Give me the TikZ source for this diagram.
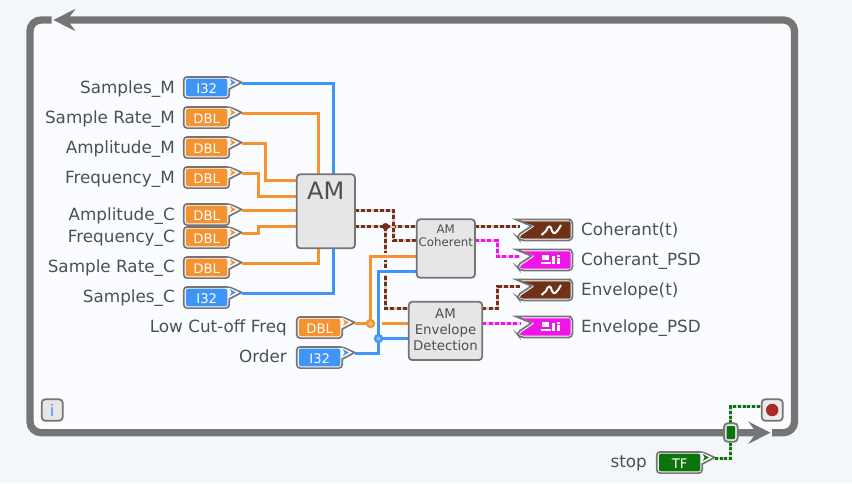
\documentclass[tikz,border=0pt]{standalone}
\usepackage{fontspec}
\setmainfont{DejaVu Sans}
\usetikzlibrary{arrows.meta}
\definecolor{loopgray}{HTML}{757575}
\definecolor{pagebg}{HTML}{F4F7FA}
\definecolor{panelbg}{HTML}{FBFCFF}
\definecolor{blockbg}{HTML}{E6E6E6}
\definecolor{txtgray}{HTML}{4A5059}
\definecolor{dblcol}{HTML}{F59331}
\definecolor{intcol}{HTML}{3F94F7}
\definecolor{wavecol}{HTML}{703216}
\definecolor{psdcol}{HTML}{F014E6}
\definecolor{boolcol}{HTML}{0D730D}
\definecolor{stopcol}{HTML}{A82A2F}
\tikzset{
  looppath/.style={draw=loopgray,line width=7.3pt,rounded corners=11pt},
  lbl/.style={font=\fontsize{16.8}{18}\selectfont,text=txtgray,inner sep=0pt},
  termtext/.style={font=\fontsize{13.2}{14}\selectfont,text=white,inner sep=0pt},
  blocktext/.style={font=\fontsize{#1}{#1}\selectfont,text=txtgray,inner sep=0pt,align=center},
  block/.style={draw=loopgray,line width=1.8pt,fill=blockbg,rounded corners=3.5pt},
  halo/.style={draw=panelbg,line width=6.5pt},
  wireD/.style={draw=dblcol,line width=3pt},
  wireI/.style={draw=intcol,line width=3pt},
  wireW/.style={draw=wavecol,line width=3pt,dash pattern=on 4pt off 2.2pt,preaction={draw=wavecol!25!panelbg,line width=3pt,solid}},
  wireP/.style={draw=psdcol,line width=2.6pt,dash pattern=on 4pt off 2.2pt,preaction={draw=psdcol!30!panelbg,line width=2.6pt,solid}},
  wireB/.style={draw=boolcol,line width=3pt,dash pattern=on 3pt off 1.8pt,preaction={draw=boolcol!25!panelbg,line width=3pt,solid}},
  ring/.style={circle,draw=#1,line width=2.2pt,fill=#1!60!white,minimum size=7pt,inner sep=0pt},
}
% control terminal, args: name, left x, centre y, colour, type
\newcommand{\ctlterm}[5]{
  \draw[draw=loopgray,line width=1.7pt,fill=panelbg,rounded corners=3.5pt]
    (#2,#3-10.6) -- (#2+38,#3-10.6) -- (#2+45.5,#3-10.6) [sharp corners] -- (#2+58,#3-5) -- (#2+45.5,#3+1.5) [rounded corners=3.5pt] -- (#2+45.5,#3+10.6) -- (#2,#3+10.6) -- cycle;
  \fill[#4,rounded corners=2pt] (#2+2.2,#3-8.8) -- (#2+43.6,#3-8.8) -- (#2+43.6,#3+8.8) -- (#2+2.2,#3+8.8) -- cycle;
  \fill[panelbg] (#2+45,#3-10) -- (#2+55.5,#3-5) -- (#2+45,#3) -- cycle;
  \fill[#4] (#2+46,#3-8.6) -- (#2+52,#3-5) -- (#2+46,#3-1.5) -- (#2+48,#3-5) -- cycle;
  \node[termtext] (#1) at (#2+23,#3+0.7) {#5};
  \coordinate (#1-o) at (#2+58,#3-4);
}
% indicator terminal, args: name, centre y, colour
\newcommand{\indterm}[3]{
  \draw[draw=loopgray,line width=1.7pt,fill=panelbg,rounded corners=3.5pt]
    (516,#2-10.5) [sharp corners] -- (571,#2-10.5) [rounded corners=4pt] -- (572.5,#2-10.5) -- (572.5,#2+10.5) -- (520,#2+10.5) -- (516.5,#2+6) [sharp corners] -- (531.5,#2-4) -- cycle;
  \fill[#3,rounded corners=2pt] (521,#2-8.7) -- (570.7,#2-8.7) -- (570.7,#2+8.7) -- (521,#2+8.7) -- (519.5,#2+6.5) -- (535,#2-4) -- cycle;
  \coordinate (#1) at (520,#2-3.5);
}
\begin{document}
\begin{tikzpicture}[x=1pt,y=-1pt]
\useasboundingbox (0,0) rectangle (852,483);
\fill[pagebg] (0,0) rectangle (852,483);
\fill[panelbg] (30,20) rectangle (794.5,432.7);
% loop frame
\draw[looppath,-{Stealth[length=22pt,width=22pt,inset=8pt]}] (772,432.7) -- (794.5,432.7) -- (794.5,20) -- (53.3,20);
\draw[looppath,-{Stealth[length=22pt,width=22pt,inset=8pt]}] (51.7,20) -- (30,20) -- (30,432.7) -- (770.5,432.7);

% block ports
\coordinate (amN1) at (318.5,174.3);
\coordinate (amN2) at (333.5,174.3);
\coordinate (amS1) at (318.5,248.3);
\coordinate (amS2) at (333.5,248.3);
\coordinate (amW1) at (296.7,180.5);
\coordinate (amW2) at (296.7,196.5);
\coordinate (amW3) at (296.7,210.5);
\coordinate (amW4) at (296.7,226.5);
\coordinate (amE1) at (355,210.5);
\coordinate (amE2) at (355,226.5);
\coordinate (cohW1) at (416.7,226.5);
\coordinate (cohW2) at (416.7,240.5);
\coordinate (cohW3) at (416.7,256.5);
\coordinate (cohW4) at (416.7,271.5);
\coordinate (cohE1) at (475,226.5);
\coordinate (cohE2) at (475,240.5);
\coordinate (envW1) at (408.7,308.5);
\coordinate (envW2) at (408.7,323.5);
\coordinate (envW3) at (408.7,338.5);
\coordinate (envE1) at (482.3,308.5);
\coordinate (envE2) at (482.3,323.5);
\coordinate (splitW) at (385.5,226.5);
\coordinate (splitD) at (370.5,323.5);
\coordinate (splitI) at (378.5,338.5);

% terminals
\ctlterm{smpM}{183.7}{87.5}{intcol}{I32}
\ctlterm{srM}{183.7}{117.5}{dblcol}{DBL}
\ctlterm{ampM}{183.7}{147.5}{dblcol}{DBL}
\ctlterm{frqM}{183.7}{177.5}{dblcol}{DBL}
\ctlterm{ampC}{183.7}{214.5}{dblcol}{DBL}
\ctlterm{frqC}{183.7}{237.5}{dblcol}{DBL}
\ctlterm{srC}{183.7}{267.5}{dblcol}{DBL}
\ctlterm{smpC}{183.7}{297.5}{intcol}{I32}
\ctlterm{lowF}{296.7}{327.5}{dblcol}{DBL}
\ctlterm{ordr}{296.7}{357.5}{intcol}{I32}
\ctlterm{stopT}{656.7}{462.5}{boolcol}{TF}
\indterm{cohT}{230}{wavecol}
\indterm{cohP}{260}{psdcol}
\indterm{envT}{290}{wavecol}
\indterm{envP}{327}{psdcol}

% wires
\draw[wireI] (smpM-o) -| (amN2);
\draw[wireD] (srM-o) -| (amN1);
\draw[wireD] (ampM-o) -- ++(23.8,0) |- (amW1);
\draw[wireD] (frqM-o) -- ++(16.8,0) |- (amW2);
\draw[wireD] (ampC-o) -- (amW3);
\draw[wireD] (frqC-o) -- ++(16.8,0) |- (amW4);
\draw[wireD] (srC-o) -| (amS1);
\draw[wireI] (smpC-o) -| (amS2);

\draw[wireW] (splitW) |- (envW1);
\draw[wireW] (amE2) -- (splitW) -- (cohW1);
\draw[wireW] (amE1) -- ++(38.5,0) |- (cohW2);
\draw[wireW] (cohE1) -- (cohT);
\draw[wireP] (cohE2) -- ++(22.5,0) |- (cohP);
\draw[wireW] (envE1) -- ++(15.2,0) |- (envT);
\draw[wireP] (envE2) -- (envP);

\draw[halo] (splitD) |- (cohW3);
\draw[wireD] (lowF-o) -- (splitD);
\draw[wireD] (splitD) |- (cohW3);
\draw[wireD] (splitD) -- (envW2);
\draw[halo] (ordr-o) -- ++(23.8,0) |- (cohW4);
\draw[wireI] (ordr-o) -- ++(23.8,0) |- (cohW4);
\draw[wireI] (splitI) -- (envW3);
\node[ring=dblcol] (ringD) at (splitD) {};
\node[ring=intcol] (ringI) at (splitI) {};
\fill[wavecol] (splitW) circle (3.5pt);

% blocks
\draw[block] (296.7,174.3) rectangle (355,248.3);
\node[blocktext=24,anchor=north] (am) at (325.8,181.5) {AM};
\draw[block] (416.7,219.3) rectangle (475,277.7);
\node[blocktext=11.8,anchor=base] (amcoh) at (445.8,246.8) {AM\\[1.2pt]Coherent};
\draw[block] (408.7,301.7) rectangle (482.3,360);
\node[blocktext=13.3,anchor=base] (amenv) at (445.5,350) {AM\\[2.7pt]Envelope\\[2.7pt]Detection};

% indicator icons
\foreach \yy in {230,290}
  \draw[white,line width=2pt] (541.5,\yy+5) -- (546,\yy+1) .. controls (548,\yy-5) and (551,\yy-5) .. (552,\yy+1) .. controls (554,\yy+5) and (556,\yy+4) .. (561,\yy-5);
\foreach \yy in {260,327}{
  \fill[white] (542,\yy-5.5) rectangle (549,\yy);
  \fill[white] (541,\yy+1.5) rectangle (551,\yy+4);
  \fill[white] (552,\yy-4) rectangle (555,\yy+4);
  \fill[white] (557,\yy-5.5) rectangle (560,\yy-3.5);
  \fill[white] (557,\yy-2) rectangle (560,\yy+4);
}

% input labels
\node[lbl,anchor=base east] (lsmpM) at (175,93.4) {Samples\_M};
\node[lbl,anchor=base east] (lsrM) at (175,123.4) {Sample Rate\_M};
\node[lbl,anchor=base east] (lampM) at (175,153.4) {Amplitude\_M};
\node[lbl,anchor=base east] (lfrqM) at (175,183.4) {Frequency\_M};
\node[lbl,anchor=base east] (lampC) at (175,220) {Amplitude\_C};
\node[lbl,anchor=base east] (lfrqC) at (175,242.8) {Frequency\_C};
\node[lbl,anchor=base east] (lsrC) at (175,272.8) {Sample Rate\_C};
\node[lbl,anchor=base east] (lsmpC) at (175,302.8) {Samples\_C};
\node[lbl,anchor=base east] (llowF) at (287,332.8) {Low Cut-off Freq};
\node[lbl,anchor=base east] (lordr) at (287,362.8) {Order};
% output labels
\node[lbl,anchor=base west] (lcohT) at (581,235) {Coherant(t)};
\node[lbl,anchor=base west] (lcohP) at (581,265) {Coherant\_PSD};
\node[lbl,anchor=base west] (lenvT) at (581,295) {Envelope(t)};
\node[lbl,anchor=base west] (lenvP) at (581,332.8) {Envelope\_PSD};
\node[lbl,anchor=base east] (lstop) at (647,467.8) {stop};

% info button
\draw[block] (41.7,399.3) rectangle (62.7,420.7);
\node[font=\fontsize{16}{16}\selectfont,text=intcol,inner sep=0pt] (infoB) at (52.2,410) {i};

% stop button and conditional terminal
\draw[wireB] (stopT-o) -- ++(15.8,0) -- ++(0,-25);
\coordinate (condN) at (730.5,423.3);
\coordinate (stopW) at (761.7,406.5);
\draw[wireB] (condN) |- (stopW);
\draw[block,fill=white!92!black] (761.7,399.3) rectangle (782.7,420.7);
\node[circle,fill=stopcol,minimum size=12.5pt,inner sep=0pt] (stopB) at (772.2,410) {};
\draw[block,fill=blockbg] (724,423.3) rectangle (737.7,441.7);
\fill[boolcol,rounded corners=1pt] (726.5,426) rectangle (735.2,439);
\end{tikzpicture}
\end{document}
